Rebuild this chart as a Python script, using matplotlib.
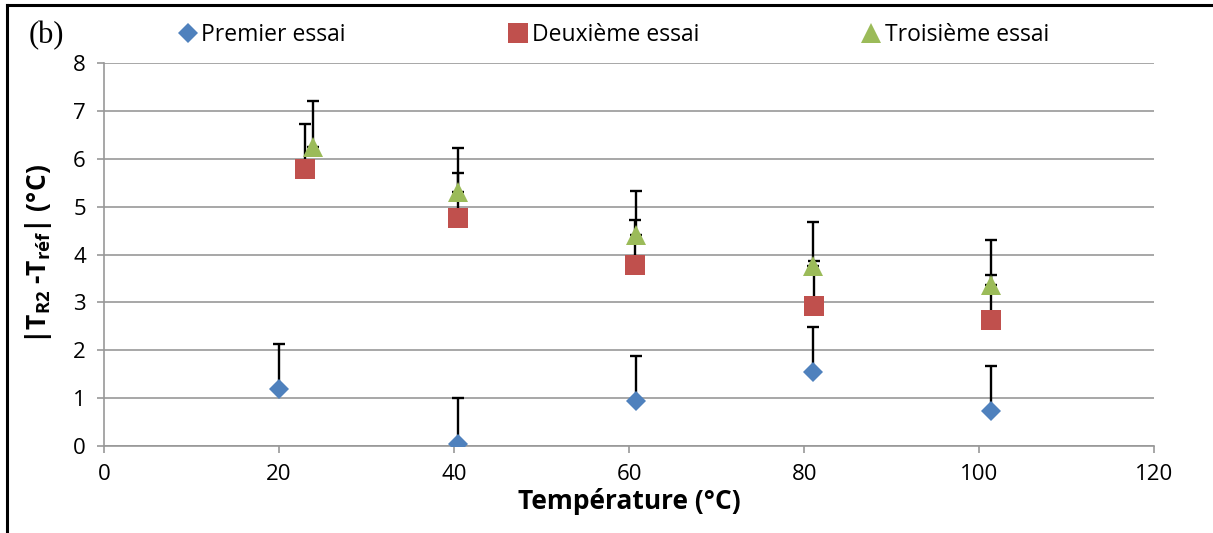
import matplotlib
matplotlib.use("Agg")
import matplotlib.pyplot as plt
from matplotlib.lines import Line2D
import numpy as np

plt.rcParams['font.family'] = ['Open Sans', 'DejaVu Sans']
plt.rcParams['mathtext.fontset'] = 'custom'
plt.rcParams['mathtext.rm'] = 'Open Sans'
plt.rcParams['mathtext.bf'] = 'Open Sans:bold'
plt.rcParams['mathtext.default'] = 'bf'

# ==============================================================================
# Data
# ==============================================================================
series_names = ['Premier essai', 'Deuxième essai', 'Troisième essai']

x_premier = [20.0, 40.4, 60.8, 81.0, 101.3]
y_premier = [1.19, 0.05, 0.95, 1.55, 0.73]
err_premier = [0.94, 0.95, 0.92, 0.94, 0.94]

x_deuxieme = [23.0, 40.5, 60.7, 81.1, 101.3]
y_deuxieme = [5.78, 4.77, 3.78, 2.93, 2.63]
err_deuxieme = [0.94, 0.93, 0.94, 0.94, 0.94]

x_troisieme = [23.9, 40.5, 60.8, 81.0, 101.3]
y_troisieme = [6.25, 5.30, 4.40, 3.75, 3.37]
err_troisieme = [0.95, 0.93, 0.93, 0.92, 0.93]

x_ticks = [0, 20, 40, 60, 80, 100, 120]
y_ticks = [0, 1, 2, 3, 4, 5, 6, 7, 8]

# ==============================================================================
# Style
# ==============================================================================
colors = ['#4F81BD', '#C0504D', '#9BBB59']
markers = ['D', 's', '^']
msizes = [10.5, 14, 15]
gridcolor = '#989898'
ticksize = 16
legendsize = 16.5
labelsize = 19

fig = plt.figure(figsize=(12.13, 5.33), dpi=100)
ax = fig.add_axes([0.0857, 0.1632, 0.866, 0.7186])

data = [(x_premier, y_premier, err_premier),
        (x_deuxieme, y_deuxieme, err_deuxieme),
        (x_troisieme, y_troisieme, err_troisieme)]

# error bars (upper side only) below the markers
for xs, ys, es in data:
    lower = np.zeros(len(es))
    ax.errorbar(xs, ys, yerr=[lower, es], fmt='none', ecolor='black',
                elinewidth=1.7, capsize=4.5, capthick=1.7, zorder=2)

handles = []
for (xs, ys, es), c, m, s, name in zip(data, colors, markers, msizes, series_names):
    h, = ax.plot(xs, ys, linestyle='none', marker=m, markersize=s, color=c,
                 markeredgewidth=0, label=name, zorder=3)
    handles.append(h)

ax.set_xlim(0, 120)
ax.set_ylim(0, 8)
ax.set_xticks(x_ticks)
ax.set_yticks(y_ticks)
ax.yaxis.grid(True, color=gridcolor, linewidth=1.2)
ax.set_axisbelow(True)
for side in ['top', 'right']:
    ax.spines[side].set_visible(False)
for side in ['left', 'bottom']:
    ax.spines[side].set_color(gridcolor)
    ax.spines[side].set_linewidth(1.2)
ax.tick_params(axis='both', colors=gridcolor, length=5, width=1.2,
               labelsize=ticksize, labelcolor='black')
ax.tick_params(axis='y', pad=8)
ax.tick_params(axis='x', pad=8)

ax.set_xlabel('Température (°C)', fontsize=labelsize, fontweight='bold', labelpad=2)
ax.set_ylabel(r'|T$_{\mathbf{R2}}$ -T$_{\mathbf{réf}}$| (°C)', fontsize=labelsize,
              fontweight='bold', labelpad=14)

fig.legend(handles=handles, loc='center', bbox_to_anchor=(0.505, 0.934), ncol=3,
           frameon=False, fontsize=legendsize, columnspacing=7.0, handletextpad=0.1,
           handlelength=1.0)

fig.text(0.024, 0.934, '(b)', family='Liberation Serif', fontsize=22, va='center')

# frame lines from the original document (top and left only)
fig.add_artist(Line2D([0.006, 1.0], [0.99, 0.99], color='black', linewidth=2.2,
                      transform=fig.transFigure))
fig.add_artist(Line2D([0.006, 0.006], [0.0, 0.99], color='black', linewidth=2.2,
                      transform=fig.transFigure))

fig.savefig('out.png', dpi=100)
